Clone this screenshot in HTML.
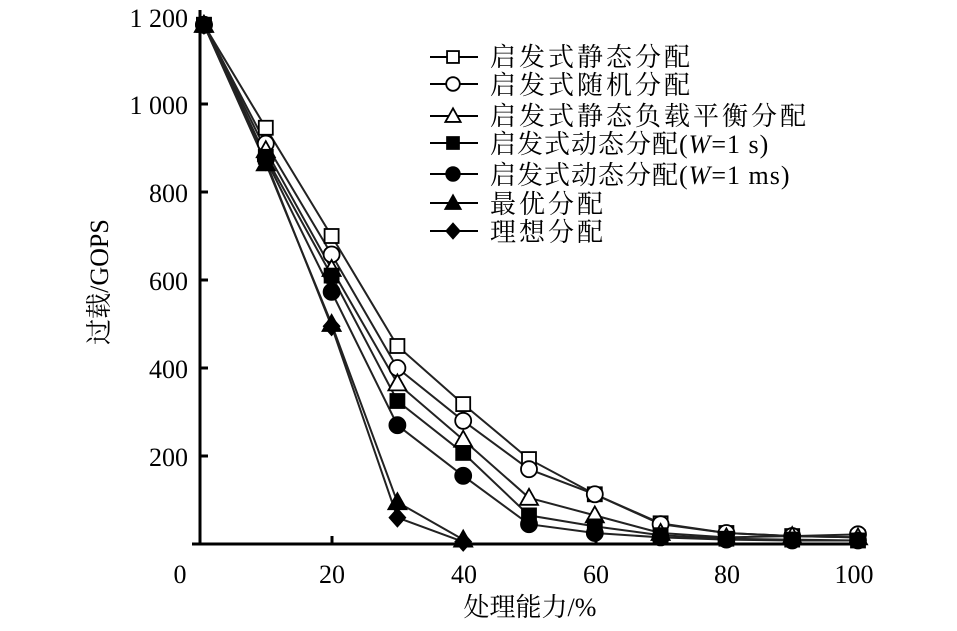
<!DOCTYPE html>
<html><head><meta charset="utf-8"><style>
body{margin:0;background:#fff;}
svg text{font-family:"Liberation Serif","Noto Serif CJK SC",serif;fill:#000;}
</style></head><body>
<svg id="s" width="957" height="626" xmlns="http://www.w3.org/2000/svg">
<g stroke="#000" stroke-width="3" fill="none">
<line x1="200" y1="10" x2="200" y2="545"/>
<line x1="192" y1="544" x2="866" y2="544"/>
</g>
<g stroke="#000" stroke-width="3">
<line x1="200" y1="104" x2="208" y2="104"/>
<line x1="200" y1="192" x2="208" y2="192"/>
<line x1="200" y1="280" x2="208" y2="280"/>
<line x1="200" y1="368" x2="208" y2="368"/>
<line x1="200" y1="456" x2="208" y2="456"/>
<line x1="332" y1="544" x2="332" y2="536"/>
<line x1="464" y1="544" x2="464" y2="536"/>
<line x1="596" y1="544" x2="596" y2="536"/>
<line x1="727" y1="544" x2="727" y2="536"/>
</g>
<g font-size="26" text-anchor="end">
<text x="188" y="27">1 200</text>
<text x="188" y="114">1 000</text>
<text x="188" y="202">800</text>
<text x="188" y="290">600</text>
<text x="188" y="378">400</text>
<text x="188" y="466">200</text>
</g>
<g font-size="26" text-anchor="middle">
<text x="180" y="583">0</text>
<text x="332" y="583">20</text>
<text x="464" y="583">40</text>
<text x="596" y="583">60</text>
<text x="727" y="583">80</text>
<text x="854" y="583">100</text>
<text x="530" y="616">处理能力/%</text>
</g>
<text font-size="26" text-anchor="middle" transform="translate(108,282) rotate(-90)">过载/GOPS</text>
<g id="d"></g>
<g font-size="26" letter-spacing="3">
<text x="490" y="66">启发式静态分配</text>
<text x="490" y="94">启发式随机分配</text>
<text x="490" y="125">启发式静态负载平衡分配</text>
<text x="490" y="153" letter-spacing="1">启发式动态分配(<tspan font-style="italic">W</tspan>=1 s)</text>
<text x="490" y="184" letter-spacing="1">启发式动态分配(<tspan font-style="italic">W</tspan>=1 ms)</text>
<text x="490" y="213">最优分配</text>
<text x="490" y="241">理想分配</text>
</g>
</svg>
<script>
const X=[0.6,10,20,30,40,50,60,70,80,90,100];
const S=[
["sq",[1180,946,700,450,318,193,113,47,25,18,15]],
["ci",[1180,910,658,400,280,170,113,45,25,18,22]],
["tr",[1180,895,625,365,237,105,65,25,15,18,15]],
["fsq",[1180,880,610,325,207,65,40,20,12,10,8]],
["fci",[1180,875,573,270,155,45,25,15,10,8,8]],
["ftr",[1180,865,500,95,10]],
["fdi",[1180,870,495,60,5]]];
const px=x=>200+x*6.58, py=v=>544-v*0.44;
function mk(t,x,y,s){
 s=s||1;
 const f=t[0]=='f'?'#000':'#fff', k=t.replace('f','');
 if(k=='sq')return `<rect x="${x-7*s}" y="${y-7*s}" width="${14*s}" height="${14*s}" fill="${f}" stroke="#000" stroke-width="1.8"/>`;
 if(k=='ci')return `<circle cx="${x}" cy="${y}" r="${8*s}" fill="${f}" stroke="#000" stroke-width="1.8"/>`;
 if(k=='tr')return `<polygon points="${x},${y-9*s} ${x+9*s},${y+7*s} ${x-9*s},${y+7*s}" fill="${f}" stroke="#000" stroke-width="1.8"/>`;
 return `<polygon points="${x},${y-9*s} ${x+8*s},${y} ${x},${y+9*s} ${x-8*s},${y}" fill="${f}" stroke="#000" stroke-width="1.5"/>`;
}
let h='';
const ly=[57,84,116,143,174,203,231];
S.forEach((s,i)=>{
 const pts=s[1].map((v,j)=>[px(X[j]),py(v)]);
 h+=`<polyline points="${pts.map(p=>p.join(',')).join(' ')}" fill="none" stroke="#222" stroke-width="2"/>`;
});
S.forEach((s,i)=>{
 s[1].forEach((v,j)=>{h+=mk(s[0],px(X[j]),py(v));});
 h+=`<line x1="430" y1="${ly[i]}" x2="478" y2="${ly[i]}" stroke="#000" stroke-width="2"/>`+mk(s[0],453,ly[i],0.85);
});
document.getElementById('d').innerHTML=h;
</script>
</body></html>
